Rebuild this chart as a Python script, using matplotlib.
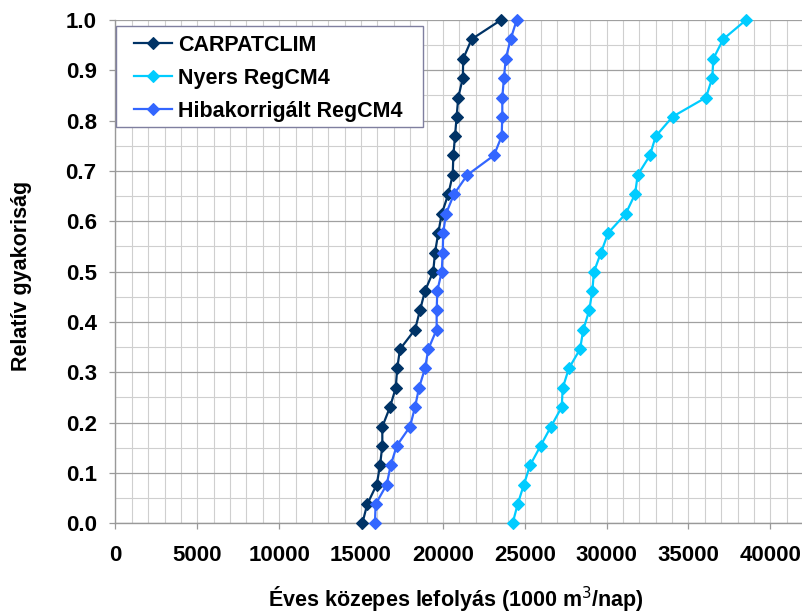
import matplotlib
matplotlib.use("Agg")
import matplotlib.pyplot as plt
from matplotlib.patches import Rectangle
from matplotlib.ticker import MultipleLocator, FixedLocator

plt.rcParams['font.family'] = ['Liberation Sans', 'DejaVu Sans']

# Relative frequency (y) shared by all series
rel_freq = [0.0, 0.038, 0.077, 0.115, 0.154, 0.192, 0.231, 0.269, 0.308,
            0.346, 0.385, 0.423, 0.462, 0.5, 0.538, 0.577, 0.615, 0.654,
            0.692, 0.731, 0.769, 0.808, 0.846, 0.885, 0.923, 0.962, 1.0]

carpatclim = [15080, 15380, 15960, 16160, 16300, 16300, 16770, 17120, 17210,
              17380, 18300, 18600, 18910, 19410, 19520, 19720, 19930, 20330,
              20600, 20640, 20740, 20840, 20940, 21220, 21240, 21760, 23550]

nyers = [24260, 24570, 24950, 25320, 25970, 26600, 27260, 27320, 27700,
         28380, 28580, 28940, 29130, 29230, 29660, 30100, 31170, 31740,
         31900, 32650, 33000, 34040, 36070, 36460, 36520, 37130, 38520]

hibakorr = [15850, 15890, 16570, 16810, 17180, 17990, 18300, 18540, 18910,
            19110, 19620, 19620, 19660, 19930, 19990, 20020, 20190, 20680,
            21490, 23120, 23590, 23630, 23630, 23730, 23840, 24140, 24510]

series_names = ['CARPATCLIM', 'Nyers RegCM4', 'Hibakorrigált RegCM4']
series_colors = ['#003366', '#00CCFF', '#3366FF']
x_ticks = [0, 5000, 10000, 15000, 20000, 25000, 30000, 35000, 40000]
y_ticks = [0.0, 0.1, 0.2, 0.3, 0.4, 0.5, 0.6, 0.7, 0.8, 0.9, 1.0]

W, H = 803, 615
fig = plt.figure(figsize=(W / 100, H / 100), dpi=100)
ax_l, ax_b, ax_r, ax_t = 115.5, 523.3, 803, 20
ax = fig.add_axes([ax_l / W, 1 - ax_b / H, (ax_r - ax_l) / W, (ax_b - ax_t) / H])

ax.set_xlim(0, 42000)
ax.set_ylim(0, 1.0)

# grid
ax.xaxis.set_major_locator(FixedLocator(x_ticks))
ax.xaxis.set_minor_locator(MultipleLocator(1000))
ax.yaxis.set_major_locator(FixedLocator(y_ticks))
ax.yaxis.set_minor_locator(MultipleLocator(0.05))
ax.grid(which='minor', axis='x', color='#CFCFCF', linewidth=0.8)
ax.grid(which='major', axis='x', color='#CFCFCF', linewidth=0.8)
ax.grid(which='minor', axis='y', color='#CFCFCF', linewidth=0.8)
ax.grid(which='major', axis='y', color='#A0A0A0', linewidth=0.9)
ax.set_axisbelow(True)

for s in ['top', 'right']:
    ax.spines[s].set_visible(False)
for s in ['left', 'bottom']:
    ax.spines[s].set_color('#999999')
    ax.spines[s].set_linewidth(1.0)

ax.tick_params(which='minor', length=0)
ax.tick_params(axis='y', which='major', length=4.5, width=0.9, color='#999999',
               pad=9, labelsize=16)
ax.tick_params(axis='x', which='major', length=4.5, width=0.9, color='#999999',
               pad=11, labelsize=16)
ax.set_xticklabels([str(v) for v in x_ticks], fontweight='bold')
ax.set_yticklabels(['%.1f' % v for v in y_ticks], fontweight='bold')

for xs, name, col in zip([carpatclim, nyers, hibakorr], series_names, series_colors):
    ax.plot(xs, rel_freq, color=col, linewidth=1.6, marker='D', markersize=6,
            markeredgewidth=0.8, markeredgecolor=col, markerfacecolor=col,
            label=name, clip_on=False, zorder=3)

# legend box
bx0, by0, bx1, by1 = 116, 26, 423, 127
rect = Rectangle(((bx0 - ax_l) / (ax_r - ax_l), (ax_b - by1) / (ax_b - ax_t)),
                 (bx1 - bx0) / (ax_r - ax_l), (by1 - by0) / (ax_b - ax_t),
                 transform=ax.transAxes, facecolor='white', edgecolor='#7F7F9F',
                 linewidth=1.0, zorder=4, clip_on=False)
ax.add_patch(rect)
fs = 15.5
fs_px = fs * 100 / 72
leg = ax.legend(loc='upper left',
                bbox_to_anchor=((134 - ax_l) / (ax_r - ax_l), (ax_b - 35) / (ax_b - ax_t)),
                frameon=False, borderpad=0, borderaxespad=0,
                handlelength=38 / fs_px, handletextpad=6 / fs_px,
                labelspacing=0.55, prop={'weight': 'bold', 'size': fs})
leg.set_zorder(5)

fig.text(456 / W, (H - 607) / H, 'Éves közepes lefolyás (1000 m$^3$/nap)',
         ha='center', va='baseline', fontsize=15.5, fontweight='bold')
fig.text(22 / W, 1 - 276 / H, 'Relatív gyakoriság', rotation=90,
         ha='center', va='center', fontsize=15.5, fontweight='bold')

fig.savefig('out.png', dpi=100)
